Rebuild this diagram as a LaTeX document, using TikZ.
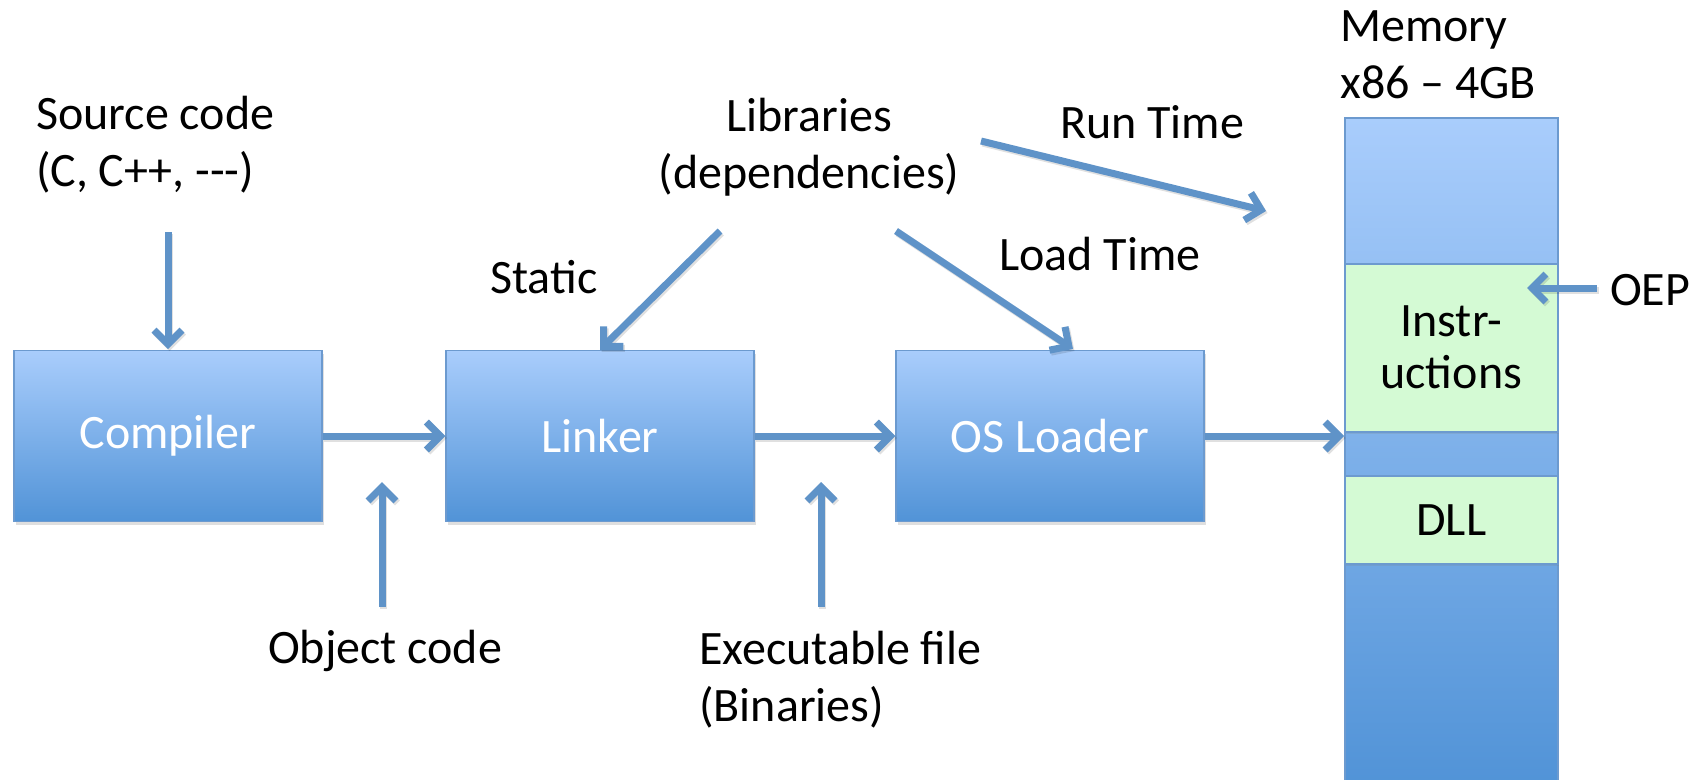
\documentclass[tikz,border=0pt]{standalone}
\usepackage{fontspec}
\setmainfont{Carlito}
\usetikzlibrary{arrows.meta,shadows}

\definecolor{flowline}{HTML}{5F93C8}
\definecolor{boxtop}{HTML}{A9CDFC}
\definecolor{boxbot}{HTML}{5193D7}
\definecolor{boxedge}{HTML}{6C9ACF}
\definecolor{memgreen}{HTML}{D4FAD4}

\begin{document}
\begin{tikzpicture}[x=1pt,y=-1pt,
  every node/.style={font=\fontsize{48}{57}\selectfont},
  stage/.style={draw=boxedge, line width=1.5pt, top color=boxtop, bottom color=boxbot,
    text=white, minimum width=308pt, minimum height=171pt, inner sep=0pt,
    drop shadow={opacity=0.25, shadow xshift=2pt, shadow yshift=-3pt}},
  memcol/.style={draw=boxedge, line width=1.5pt, top color=boxtop, bottom color=boxbot,
    minimum width=213pt, inner sep=0pt, anchor=north west},
  region/.style={draw=boxedge, line width=1.5pt, fill=memgreen, text=black,
    minimum width=213pt, inner sep=0pt, anchor=north west, align=center,
    font=\fontsize{48}{52}\selectfont,
    drop shadow={opacity=0.2, shadow xshift=1pt, shadow yshift=-2pt}},
  caption/.style={inner sep=0pt, text=black},
  flow/.style={draw=flowline, line width=7pt,
    -{Straight Barb[length=14pt,width=28pt]},
    preaction={draw=black, opacity=0.12, line width=7pt, transform canvas={xshift=1.5pt,yshift=-2pt},
      -{Straight Barb[length=14pt,width=28pt]}}}
]
\useasboundingbox (0,0) rectangle (1699,779);

% pipeline stages
\node[stage] (cmp) at (168,436) {Compiler};
\node[stage] (lnk) at (600,436) {Linker};
\node[stage] (ldr) at (1050,436) {OS Loader};

% memory column with its loaded regions
\node[memcol, minimum height=668pt] (mem) at (1344,117) {};
\node[region, minimum height=168pt] (instr) at (1344,263) {Instr-\\uctions};
\node[region, minimum height=88pt] (dll) at (1344,475) {DLL};

% captions
\node[caption, align=left, anchor=west] (src) at (36,145) {Source code\\(C, C++, -{}-{}-)};
\node[caption, align=center] (libs) at (809,147) {Libraries\\(dependencies)};
\node[caption] (static) at (544,277) {Static};
\node[caption] (load) at (1100,254) {Load Time};
\node[caption] (run) at (1152,122) {Run Time};
\node[caption, align=left, anchor=west] (memlbl) at (1340,55) {Memory\\x86 -- 4GB};
\node[caption] (oep) at (1650,290) {OEP};
\node[caption] (obj) at (385,651) {Object code};
\node[caption, align=left, anchor=west] (exe) at (699,680) {Executable file\\(Binaries)};

% free ends of the connectors
\coordinate (srcA) at (168,232);
\coordinate (cmpTop) at (168,349);
\coordinate (libA) at (720,231);
\coordinate (libB) at (896,231);
\coordinate (ldrTop) at (1073,349);
\coordinate (runA) at (981,141);
\coordinate (runB) at (1266,211);
\coordinate (oepA) at (1597,288);
\coordinate (oepB) at (1527,288);
\coordinate (objA) at (382,607);
\coordinate (objB) at (382,482);
\coordinate (exeA) at (821,607);
\coordinate (exeB) at (821,482);

% connectors
\draw[flow] (srcA) -- (cmpTop);
\draw[flow] (libA) -- (lnk.north);
\draw[flow] (libB) -- (ldrTop);
\draw[flow] (runA) -- (runB);
\draw[flow] (cmp.east) -- (lnk.west);
\draw[flow] (lnk.east) -- (ldr.west);
\draw[flow] (ldr.east) -- (ldr.east -| mem.west);
\draw[flow] (oepA) -- (oepB);
\draw[flow] (objA) -- (objB);
\draw[flow] (exeA) -- (exeB);
\end{tikzpicture}
\end{document}
